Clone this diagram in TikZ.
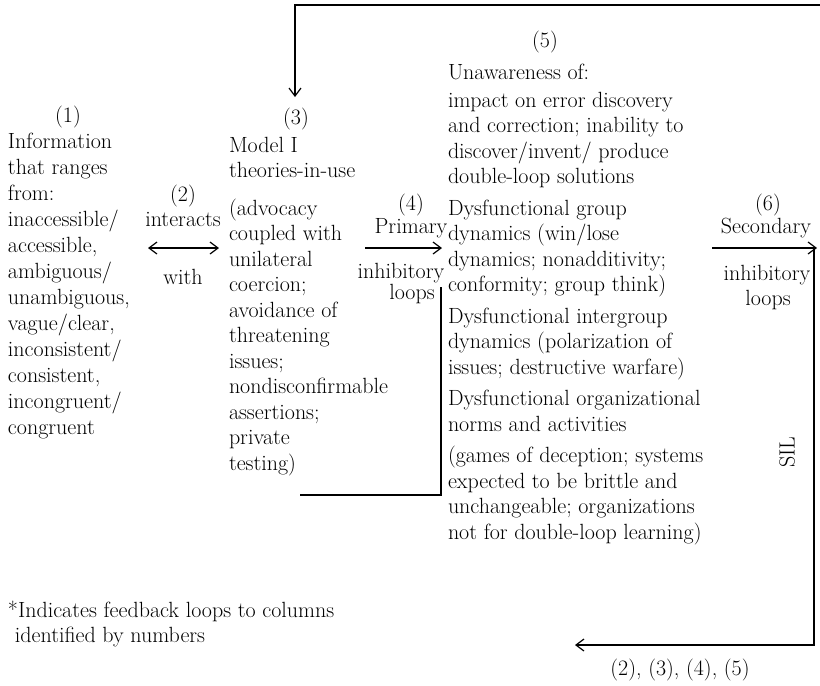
\documentclass[tikz,border=0pt]{standalone}
\usetikzlibrary{arrows.meta}
\begin{document}
\begin{tikzpicture}[x=1pt,y=-1pt,
  txt/.style={font=\fontsize{22}{25.5}\selectfont, inner sep=0pt, outer sep=0pt},
  blk/.style={txt, anchor=base west},
  lbl/.style={txt, anchor=base},
  wire/.style={line width=1.3pt},
  arr/.style={wire, -{Straight Barb[length=8pt,width=12pt,line width=1.2pt]}},
  darr/.style={wire, {Straight Barb[length=8pt,width=12pt,line width=1.2pt]}-{Straight Barb[length=8pt,width=12pt,line width=1.2pt]}}]
\useasboundingbox (0,0) rectangle (820,686);

% column 1
\node[lbl] (n1) at (68,122) {(1)};
\node[blk] (info) at (8,148) {\parbox[t]{200pt}{\raggedright\baselineskip=26pt Information\\that ranges\\from:\\inaccessible/\\accessible,\\ambiguous/\\unambiguous,\\vague/clear,\\inconsistent/\\consistent,\\incongruent/\\congruent}};

% column 2
\node[lbl] (n2) at (183,201) {(2)};
\node[lbl] (interacts) at (183,226) {interacts};
\coordinate (a2l) at (148,248);
\coordinate (a2r) at (219,248);
\draw[darr] (a2l) -- (a2r);
\node[lbl] (with) at (183,284) {with};

% column 3
\node[lbl] (n3) at (296,124) {(3)};
\node[blk] (model) at (229,152) {\parbox[t]{220pt}{\raggedright Model I\\theories-in-use\\[12pt](advocacy\\coupled with\\unilateral\\coercion;\\avoidance of\\threatening\\issues;\\nondisconfirmable\\assertions;\\private\\testing)}};

% column 4
\node[lbl] (n4) at (411,210) {(4)};
\node[lbl] (primary) at (411,233) {Primary};
\coordinate (a4l) at (365,248);
\coordinate (a4r) at (442,248);
\draw[arr] (a4l) -- (a4r);
\node[lbl] (inh4) at (401,278) {inhibitory};
\node[lbl] (loops4) at (412,299) {loops};
\coordinate (p4a) at (441,287);
\coordinate (p4b) at (441,495);
\coordinate (p4c) at (300,495);
\draw[wire] (p4a) -- (p4b) -- (p4c);

% column 5
\node[lbl] (n5) at (545,47) {(5)};
\node[blk] (unaware) at (448,79) {\parbox[t]{330pt}{\raggedright Unawareness of:\\[2.5pt]impact on error discovery\\and correction; inability to\\discover/invent/ produce\\double-loop solutions\\[6pt]Dysfunctional group\\dynamics (win/lose\\dynamics; nonadditivity;\\conformity; group think)\\[6pt]Dysfunctional intergroup\\dynamics (polarization of\\issues; destructive warfare)\\[6pt]Dysfunctional organizational\\norms and activities\\[6pt](games of deception; systems\\expected to be brittle and\\unchangeable; organizations\\not for double-loop learning)}};

% column 6
\node[lbl] (n6) at (768,210) {(6)};
\node[lbl] (secondary) at (766,233) {Secondary};
\coordinate (a6l) at (712,248);
\coordinate (a6r) at (817,248);
\draw[arr] (a6l) -- (a6r);
\node[lbl] (inh6) at (767,280) {inhibitory};
\node[lbl] (loops6) at (768,305) {loops};

% SIL feedback loop
\coordinate (s1) at (814,248);
\coordinate (s2) at (814,645);
\coordinate (s3) at (575,645);
\draw[arr] (s1) -- (s2) -- (s3);
\node[txt, rotate=90] (sil) at (787,452) {SIL};
\node[lbl] (targets) at (680,675) {(2), (3), (4), (5)};

% top feedback loop
\coordinate (t1) at (820,5);
\coordinate (t2) at (295,5);
\coordinate (t3) at (295,97);
\draw[arr] (t1) -- (t2) -- (t3);

% footnote
\node[blk] (foot) at (8,617) {\parbox[t]{400pt}{\raggedright *Indicates feedback loops to columns\\\hspace*{7pt}identified by numbers}};
\end{tikzpicture}
\end{document}
